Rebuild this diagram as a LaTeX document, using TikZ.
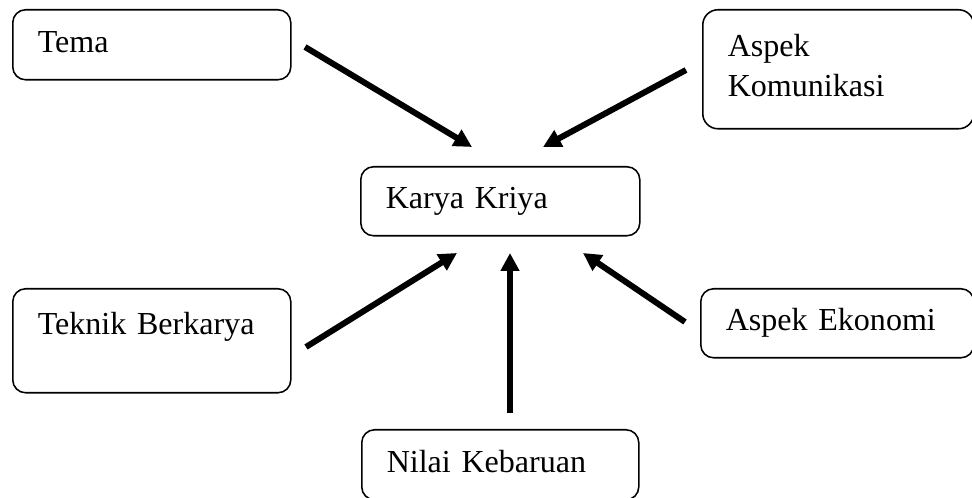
\documentclass[tikz,border=0pt]{standalone}
\usepackage{fontspec}
\setmainfont{Liberation Serif}[WordSpace=0.8]
\usetikzlibrary{arrows.meta}

\begin{document}
\begin{tikzpicture}[
  box/.style={draw, line width=1.1pt, rounded corners=0.32cm, anchor=north west,
    inner xsep=0.625cm, inner ysep=0pt, align=left,
    font=\fontsize{22.8}{28.5}\selectfont, text height=16pt, text depth=5.7pt},
  flow/.style={line width=0.15cm, -{Triangle[length=0.45cm,width=0.45cm]}}]
  \useasboundingbox (0,0) rectangle (24.3,12.45);
  % kotak
  \node[box, minimum height=1.75cm, text width=5.7cm] (tema) at (0.3,12.225) {Tema};
  \node[box, minimum height=2.975cm, text width=5.525cm, text depth=34.2pt, rounded corners=0.38cm] (komunikasi) at (17.55,12.225) {Aspek\\Komunikasi};
  \node[box, minimum height=1.725cm, text width=5.725cm] (karya) at (9.0,8.3) {Karya Kriya};
  \node[box, minimum height=2.6cm, text width=5.7cm, text depth=25.6pt] (teknik) at (0.3,5.25) {Teknik Berkarya};
  \node[box, minimum height=1.725cm, text width=5.575cm] (ekonomi) at (17.5,5.25) {Aspek Ekonomi};
  \node[box, minimum height=1.75cm, text width=5.675cm] (nilai) at (9.025,1.725) {Nilai Kebaruan};
  % panah
  \coordinate (temaA) at (7.625,11.275);
  \coordinate (temaB) at (11.8,8.775);
  \coordinate (komA) at (17.15,10.7);
  \coordinate (komB) at (13.575,8.775);
  \coordinate (teknikA) at (7.65,3.775);
  \coordinate (teknikB) at (11.425,6.125);
  \coordinate (nilaiA) at (12.75,2.125);
  \coordinate (nilaiB) at (12.75,6.125);
  \coordinate (ekonomiA) at (17.125,4.4);
  \coordinate (ekonomiB) at (14.575,6.125);
  \draw[flow] (temaA) -- (temaB);
  \draw[flow] (komA) -- (komB);
  \draw[flow] (teknikA) -- (teknikB);
  \draw[flow] (nilaiA) -- (nilaiB);
  \draw[flow] (ekonomiA) -- (ekonomiB);
\end{tikzpicture}
\end{document}
